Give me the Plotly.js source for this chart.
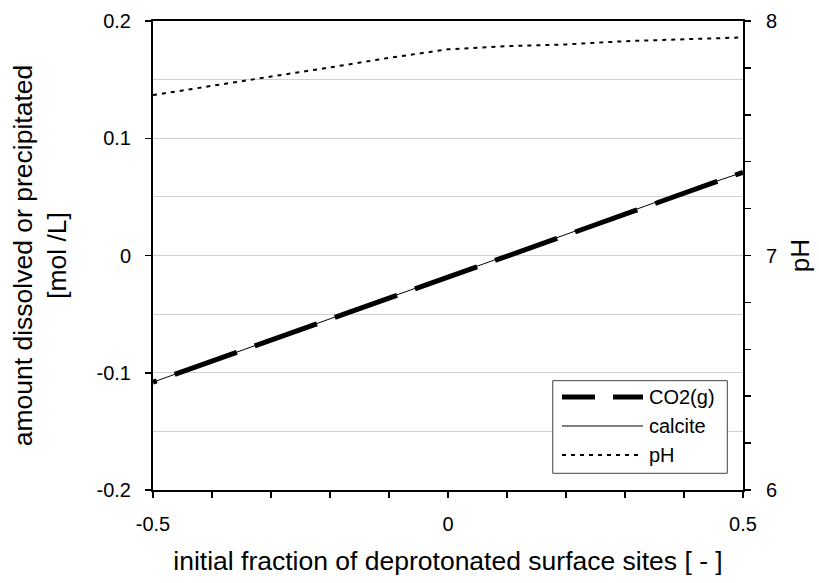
<!DOCTYPE html>
<html>
<head>
<meta charset="utf-8">
<script src="https://cdn.plot.ly/plotly-3.0.1.min.js"></script>
<style>html,body{margin:0;padding:0;background:#fff}#chart{width:819px;height:583px}</style>
</head>
<body>
<div id="chart"></div>
<script>
// Data
const fraction = [-0.5, -0.4, -0.3, -0.2, -0.1, 0.0, 0.1, 0.2, 0.3, 0.4, 0.5];
const co2g     = [-0.108, -0.090, -0.072, -0.054, -0.036, -0.018, 0.000, 0.018, 0.036, 0.054, 0.071];
const calcite  = [-0.108, -0.090, -0.072, -0.054, -0.036, -0.018, 0.000, 0.018, 0.036, 0.054, 0.071];
const pH       = [7.684, 7.722, 7.763, 7.802, 7.843, 7.879, 7.893, 7.900, 7.914, 7.922, 7.930];
const seriesNames = ['CO2(g)', 'calcite', 'pH'];
const leftTicks = [-0.2, -0.1, 0, 0.1, 0.2];
const leftTickText = ['-0.2', '-0.1', '0', '0.1', '0.2'];
const rightTicks = [6, 7, 8];
const xTicks = [-0.5, 0, 0.5];
const xTickText = ['-0.5', '0', '0.5'];

const FONT = 'Liberation Sans, Arial, sans-serif';

const traces = [
  {x: fraction, y: co2g, name: seriesNames[0], mode: 'lines', yaxis: 'y',
   line: {color: '#000', width: 5, dash: '4px,19px,62px,0px'}},
  {x: fraction, y: calcite, name: seriesNames[1], mode: 'lines', yaxis: 'y',
   line: {color: '#000', width: 1}},
  {x: fraction, y: pH, name: seriesNames[2], mode: 'lines', yaxis: 'y2',
   line: {color: '#000', width: 2, dash: '4px,5px'}}
];

// custom legend box (paper coordinates)
const legX0 = 0.6775, legX1 = 0.9734, legY0 = 0.0356, legY1 = 0.2331;
const sampX0 = 0.6932, sampX1 = 0.8305, textX = 0.8373;
const rowY = [0.1983, 0.1365, 0.0746];
const sampStyles = [
  {color: '#000', width: 5, dash: '33px,18px'},
  {color: '#000', width: 1, dash: 'solid'},
  {color: '#000', width: 2, dash: '4px,5px'}
];
const shapes = [{type: 'rect', xref: 'paper', yref: 'paper', x0: legX0, x1: legX1, y0: legY0, y1: legY1,
  line: {color: '#444', width: 1}, fillcolor: '#fff', layer: 'above'}];
const annotations = [];
seriesNames.forEach((n, i) => {
  shapes.push({type: 'line', xref: 'paper', yref: 'paper', x0: sampX0, x1: sampX1, y0: rowY[i], y1: rowY[i],
    line: sampStyles[i], layer: 'above'});
  annotations.push({xref: 'paper', yref: 'paper', x: textX, y: rowY[i], xanchor: 'left', yanchor: 'middle',
    text: n, showarrow: false, font: {family: FONT, size: 20, color: '#000'}});
});

const layout = {
  width: 819, height: 583,
  margin: {l: 153, r: 76, t: 21, b: 93},
  paper_bgcolor: '#fff', plot_bgcolor: '#fff',
  showlegend: false,
  font: {family: FONT, size: 20, color: '#000'},
  xaxis: {
    range: [-0.5, 0.5], tickvals: xTicks, ticktext: xTickText,
    ticks: 'outside', ticklen: 6, tickwidth: 1.5, tickcolor: '#000',
    minor: {dtick: 0.1, tick0: 0, ticks: 'outside', ticklen: 6, tickwidth: 1.5, tickcolor: '#000', showgrid: false},
    showgrid: false, zeroline: false, showline: true, linecolor: '#000', linewidth: 2, mirror: true,
    tickfont: {family: FONT, size: 20, color: '#000'}, ticklabelstandoff: 9,
    title: {text: 'initial fraction of deprotonated surface sites [ - ]', font: {family: FONT, size: 26.5, color: '#000'}, standoff: 17},
    automargin: false, fixedrange: true
  },
  yaxis: {
    range: [-0.2, 0.2], tickvals: leftTicks, ticktext: leftTickText,
    ticks: 'outside', ticklen: 6, tickwidth: 1.5, tickcolor: '#000',
    showgrid: true, gridcolor: '#d0d0d0', gridwidth: 1,
    minor: {dtick: 0.05, tick0: 0, showgrid: true, gridcolor: '#d0d0d0', gridwidth: 1, ticks: ''},
    zeroline: false, showline: true, linecolor: '#000', linewidth: 2,
    tickfont: {family: FONT, size: 20, color: '#000'}, ticklabelstandoff: 10,
    title: {text: 'amount dissolved or precipitated<br>[mol /L]', font: {family: FONT, size: 26.5, color: '#000'}, standoff: 22},
    automargin: false, fixedrange: true
  },
  yaxis2: {
    overlaying: 'y', side: 'right',
    range: [6, 8], tickvals: rightTicks,
    ticks: 'outside', ticklen: 6, tickwidth: 1.5, tickcolor: '#000',
    minor: {dtick: 0.2, tick0: 6, ticks: 'outside', ticklen: 6, tickwidth: 1.5, tickcolor: '#000', showgrid: false},
    showgrid: false, zeroline: false, showline: true, linecolor: '#000', linewidth: 2,
    tickfont: {family: FONT, size: 20, color: '#000'}, ticklabelstandoff: 11,
    title: {text: 'pH', font: {family: FONT, size: 26, color: '#000'}, standoff: 15},
    automargin: false, fixedrange: true
  },
  shapes: shapes,
  annotations: annotations
};

Plotly.newPlot('chart', traces, layout, {displayModeBar: false, staticPlot: true});
</script>
</body>
</html>
